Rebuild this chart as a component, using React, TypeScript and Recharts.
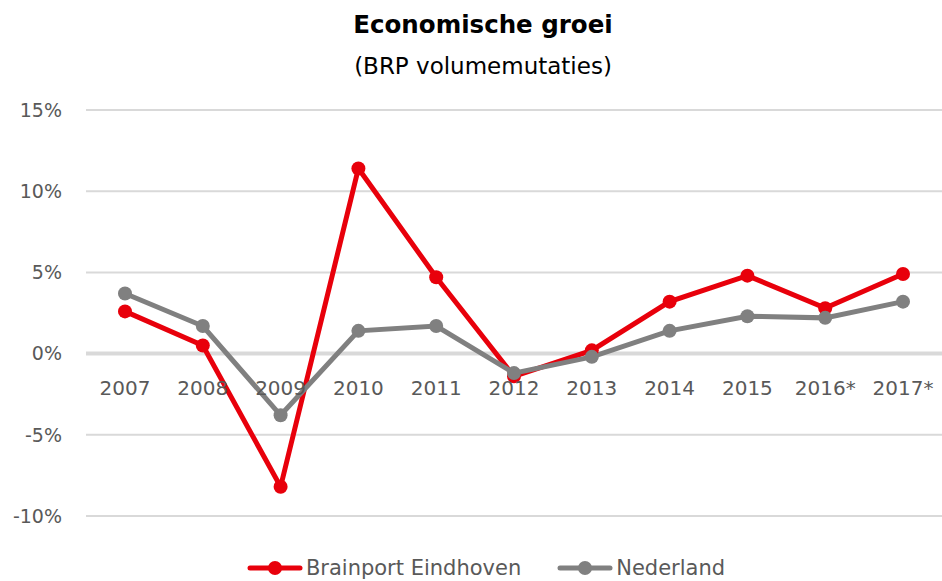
import React from 'react';
import { LineChart, Line, XAxis, YAxis, CartesianGrid, ReferenceLine, Legend, LabelList } from 'recharts';

const years = ['2007', '2008', '2009', '2010', '2011', '2012', '2013', '2014', '2015', '2016*', '2017*'];
const brainport = [2.6, 0.5, -8.2, 11.4, 4.7, -1.4, 0.2, 3.2, 4.8, 2.8, 4.9];
const nederland = [3.7, 1.7, -3.8, 1.4, 1.7, -1.2, -0.2, 1.4, 2.3, 2.2, 3.2];
const yTicks = [-10, -5, 0, 5, 10, 15];

const data = years.map((year, i) => ({
  year,
  brainport: brainport[i],
  nederland: nederland[i],
  zero: 0,
}));

const RED = '#e8000b';
const GRAY = '#808080';
const FONT = '"DejaVu Sans", sans-serif';

const YearLabel = (props: any) => {
  const { x, y, value } = props;
  return (
    <text x={x} y={y + 34} textAnchor="middle" dominantBaseline="central" fill="#595959" fontSize={20} fontFamily={FONT}>
      {value}
    </text>
  );
};

const LegendItem = ({ color, label, gap }: { color: string; label: string; gap: number }) => (
  <span style={{ display: 'inline-flex', alignItems: 'center', marginRight: gap }}>
    <svg width={56} height={16} style={{ marginRight: 3 }}>
      <line x1={3} y1={8} x2={53} y2={8} stroke={color} strokeWidth={5} strokeLinecap="round" />
      <circle cx={28} cy={8} r={7} fill={color} />
    </svg>
    <span style={{ color: '#595959', fontSize: 21 }}>{label}</span>
  </span>
);

const renderLegend = () => (
  <div style={{ height: 65, paddingTop: 42, paddingLeft: 30, boxSizing: 'border-box', textAlign: 'center', fontFamily: FONT, lineHeight: '20px' }}>
    <LegendItem color={RED} label="Brainport Eindhoven" gap={36} />
    <LegendItem color={GRAY} label="Nederland" gap={0} />
  </div>
);

export default function App() {
  return (
    <div style={{ position: 'absolute', left: 0, top: 0, width: 942, height: 581, background: '#fff' }}>
      <div style={{ position: 'absolute', top: 10, left: 12, width: 942, textAlign: 'center', fontFamily: FONT, fontWeight: 700, fontSize: 24.5, color: '#000' }}>
        Economische groei
      </div>
      <div style={{ position: 'absolute', top: 53, left: 12, width: 942, textAlign: 'center', fontFamily: FONT, fontSize: 23, color: '#000' }}>
        (BRP volumemutaties)
      </div>
      <LineChart width={942} height={581} data={data} margin={{ top: 110, right: 0, left: 0, bottom: 0 }}>
        <CartesianGrid vertical={false} stroke="#d9d9d9" strokeWidth={2} />
        <XAxis dataKey="year" hide padding={{ left: 39, right: 39 }} />
        <YAxis
          domain={[-10, 15]}
          ticks={yTicks}
          width={86}
          axisLine={false}
          tickLine={false}
          tickSize={0}
          tickMargin={24}
          tickFormatter={(v) => `${v}%`}
          tick={{ fill: '#595959', fontSize: 19, fontFamily: FONT }}
        />
        <ReferenceLine y={0} stroke="#d9d9d9" strokeWidth={4} />
        <Legend verticalAlign="bottom" content={renderLegend} />
        <Line dataKey="zero" stroke="none" dot={false} activeDot={false} legendType="none" isAnimationActive={false}>
          <LabelList dataKey="year" content={YearLabel} />
        </Line>
        <Line dataKey="brainport" name="Brainport Eindhoven" stroke={RED} strokeWidth={5} dot={{ r: 7, fill: RED, stroke: 'none' }} isAnimationActive={false} />
        <Line dataKey="nederland" name="Nederland" stroke={GRAY} strokeWidth={5} dot={{ r: 7, fill: GRAY, stroke: 'none' }} isAnimationActive={false} />
      </LineChart>
    </div>
  );
}
